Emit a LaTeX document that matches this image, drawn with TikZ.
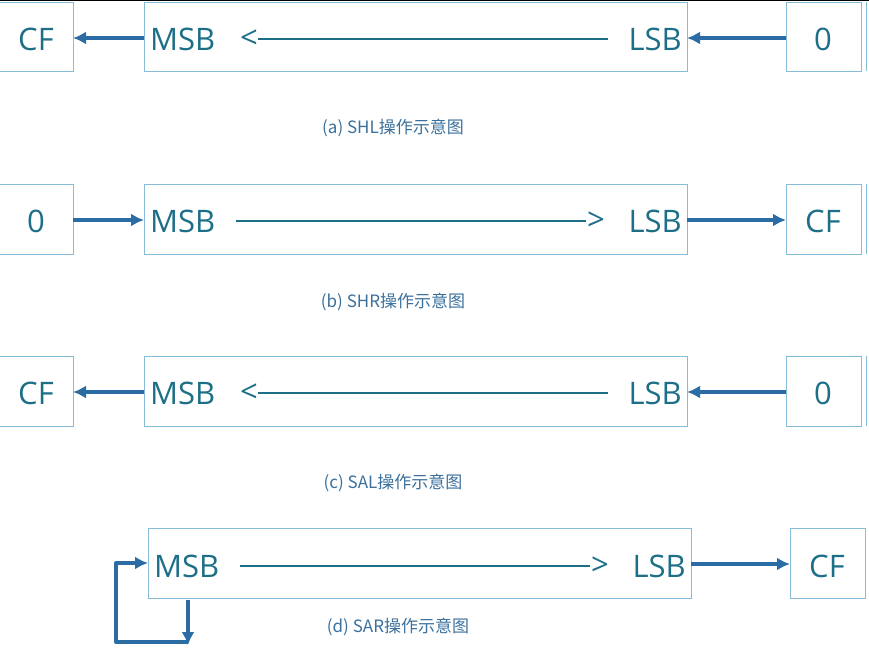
\documentclass[tikz,border=0pt]{standalone}
\usepackage{fontspec}
\setmainfont{Open Sans}
\newfontfamily\cjk{Noto Sans CJK SC}
\usetikzlibrary{arrows.meta}
\definecolor{tc}{HTML}{1D6F87}
\definecolor{ac}{HTML}{2A6CA3}
\definecolor{bc}{HTML}{86BCD8}
\tikzset{
 bx/.style={draw=bc,line width=0.9pt},
 lab/.style={text=tc,font=\fontsize{31}{33}\selectfont,inner sep=0pt},
 captext/.style={text=ac!80!gray,font=\cjk\fontsize{17}{18}\selectfont,inner sep=0pt},
 arr/.style={draw=ac,line width=4pt,-{Latex[length=13pt,width=13pt]}},
 dl/.style={draw=tc,line width=2.2pt},
}
\begin{document}
\begin{tikzpicture}[x=1pt,y=-1pt]
\useasboundingbox (0,0) rectangle (869,654);
\draw[black,line width=1pt] (0,0.5) -- (869,0.5);
% row a
\draw[bx] (-5,2) rectangle (73,71);
\draw[bx] (144,2) rectangle (687,71);
\draw[bx] (786,2) rectangle (861,71);
\draw[bx] (866,2) -- (866,71);
\node[lab] (a1) at (36,39) {CF};
\node[lab,anchor=west] (a2) at (150,39) {MSB};
\node[lab] (a3) at (249,39) {<};
\draw[dl] (258,39) -- (608,39);
\node[lab,anchor=east] (a4) at (682,39) {LSB};
\node[lab] (a5) at (823,39) {0};
\coordinate (a2w) at (144,38); \coordinate (a1e) at (73,38);
\coordinate (a5w) at (786,38); \coordinate (a4e) at (687,38);
\draw[arr] (a2w) -- (a1e);
\draw[arr] (a5w) -- (a4e);
\node[captext] (ca) at (393,128) {(a)\ SHL操作示意图};
% row b
\draw[bx] (-5,184) rectangle (73,254);
\draw[bx] (144,184) rectangle (687,254);
\draw[bx] (786,184) rectangle (861,254);
\draw[bx] (866,184) -- (866,254);
\node[lab] (b1) at (36,221) {0};
\node[lab,anchor=west] (b2) at (150,221) {MSB};
\draw[dl] (236,221) -- (586,221);
\node[lab] (b3) at (596,221) {>};
\node[lab,anchor=east] (b4) at (682,221) {LSB};
\node[lab] (b5) at (823,221) {CF};
\coordinate (b1e) at (73,220); \coordinate (b2w) at (144,220);
\coordinate (b4e) at (687,220); \coordinate (b5w) at (786,220);
\draw[arr] (b1e) -- (b2w);
\draw[arr] (b4e) -- (b5w);
\node[captext] (cb) at (393,302) {(b)\ SHR操作示意图};
% row c
\draw[bx] (-5,356) rectangle (73,426);
\draw[bx] (144,356) rectangle (687,426);
\draw[bx] (786,356) rectangle (861,426);
\draw[bx] (866,356) -- (866,426);
\node[lab] (c1) at (36,393) {CF};
\node[lab,anchor=west] (c2) at (150,393) {MSB};
\node[lab] (c3) at (249,393) {<};
\draw[dl] (258,393) -- (608,393);
\node[lab,anchor=east] (c4) at (682,393) {LSB};
\node[lab] (c5) at (823,393) {0};
\coordinate (c2w) at (144,392); \coordinate (c1e) at (73,392);
\coordinate (c5w) at (786,392); \coordinate (c4e) at (687,392);
\draw[arr] (c2w) -- (c1e);
\draw[arr] (c5w) -- (c4e);
\node[captext] (cc) at (393,483) {(c)\ SAL操作示意图};
% row d
\draw[bx] (148,528) rectangle (691,598);
\draw[bx] (790,528) rectangle (865,598);
\node[lab,anchor=west] (d2) at (154,566) {MSB};
\draw[dl] (240,566) -- (590,566);
\node[lab] (d3) at (600,566) {>};
\node[lab,anchor=east] (d4) at (686,566) {LSB};
\node[lab] (d5) at (827,566) {CF};
\coordinate (d4e) at (691,564); \coordinate (d5w) at (790,564);
\draw[arr] (d4e) -- (d5w);
\coordinate (s0) at (188,600); \coordinate (s1) at (188,645);
\draw[arr] (s0) -- (s1);
\coordinate (l0) at (188,642); \coordinate (l1) at (116,642);
\coordinate (l2) at (116,563); \coordinate (l3) at (148,563);
\draw[arr,line join=round] (l0) -- (l1) -- (l2) -- (l3);
\node[captext] (cd) at (398,627) {(d)\ SAR操作示意图};
\end{tikzpicture}
\end{document}
